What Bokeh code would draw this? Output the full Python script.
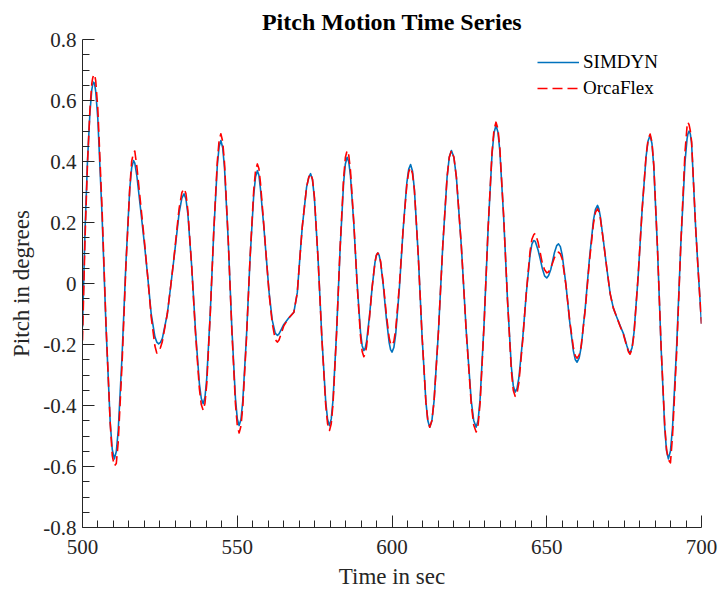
from bokeh.plotting import figure
from bokeh.models import ColumnDataSource, FixedTicker, Legend, LegendItem
from bokeh.embed import file_html
from bokeh.resources import INLINE

# ---- data ----
time_s = [
    500.0, 500.8, 501.6, 502.4, 503.0, 503.3, 503.6, 503.9, 504.27, 504.94,
    506.28, 507.62, 508.96, 509.63, 510.3, 510.92, 511.54, 512.78, 514.02, 515.26,
    515.88, 516.5, 516.9, 517.6, 518.7, 519.9, 521.0, 522.2, 523.4, 524.0,
    524.6, 525.2, 525.8, 527.4, 528.6, 529.6, 531.2, 532.1, 532.8, 533.42,
    534.04, 535.28, 536.52, 537.76, 538.38, 539.0, 539.57, 540.14, 541.28, 542.42,
    543.56, 544.13, 544.7, 545.29, 545.88, 547.06, 548.24, 549.42, 550.01, 550.6,
    551.19, 551.78, 552.96, 554.14, 555.32, 555.91, 556.5, 557.0, 557.5, 558.6,
    559.5, 560.3, 561.3, 562.2, 562.6, 563.0, 563.5, 564.0, 565.0, 566.5,
    568.3, 569.4, 570.2, 571.0, 572.4, 573.1, 573.7, 574.31, 574.92, 576.14,
    577.36, 578.58, 579.19, 579.8, 580.37, 580.94, 582.08, 583.22, 584.36, 584.93,
    585.5, 586.04, 586.58, 587.66, 588.74, 589.82, 590.36, 590.9, 591.35, 591.8,
    592.7, 593.6, 594.5, 594.95, 595.4, 595.86, 596.32, 597.24, 598.16, 599.08,
    599.54, 600.0, 600.6, 601.2, 602.4, 603.6, 604.8, 605.4, 606.0, 606.62,
    607.24, 608.48, 609.72, 610.96, 611.58, 612.2, 612.9, 613.6, 615.0, 616.4,
    617.8, 618.5, 619.2, 620.0, 620.8, 622.4, 624.0, 625.6, 626.4, 627.2,
    627.84, 628.48, 629.76, 631.04, 632.32, 632.96, 633.6, 634.22, 634.84, 636.08,
    637.32, 638.56, 639.18, 639.8, 640.4, 641.0, 642.2, 643.4, 644.6, 645.2,
    645.8, 646.3, 647.2, 647.9, 648.6, 649.3, 650.0, 650.6, 651.3, 652.5,
    653.2, 653.8, 654.4, 655.0, 656.2, 657.4, 658.6, 659.2, 659.8, 660.46,
    661.12, 662.44, 663.76, 665.08, 665.74, 666.4, 666.85, 667.3, 668.3, 669.4,
    670.5, 671.5, 672.6, 673.7, 674.8, 675.9, 676.4, 676.9, 677.55, 678.2,
    679.5, 680.8, 682.1, 682.75, 683.4, 683.99, 684.58, 685.76, 686.94, 688.12,
    688.71, 689.3, 689.97, 690.64, 691.98, 693.32, 694.66, 695.33, 695.6, 696.0,
    696.4, 696.8, 698.1, 699.0, 700.0]

simdyn = [
    -0.143, 0.17, 0.40, 0.56, 0.635, 0.652, 0.660, 0.655, 0.630, 0.542,
    0.233, -0.148, -0.457, -0.545, -0.575, -0.551, -0.482, -0.237, 0.065, 0.310,
    0.379, 0.403, 0.395, 0.35, 0.25, 0.14, 0.03, -0.10, -0.175, -0.192,
    -0.198, -0.193, -0.18, -0.10, 0.00, 0.086, 0.23, 0.28, 0.294, 0.277,
    0.228, 0.056, -0.156, -0.328, -0.377, -0.394, -0.373, -0.312, -0.096, 0.171,
    0.387, 0.448, 0.469, 0.446, 0.380, 0.146, -0.143, -0.377, -0.443, -0.466,
    -0.446, -0.386, -0.177, 0.081, 0.290, 0.350, 0.370, 0.355, 0.31, 0.185,
    0.07, -0.03, -0.12, -0.16, -0.167, -0.170, -0.165, -0.155, -0.135, -0.115,
    -0.094, -0.03, 0.08, 0.185, 0.316, 0.348, 0.36, 0.340, 0.281, 0.075,
    -0.181, -0.387, -0.446, -0.466, -0.444, -0.382, -0.162, 0.110, 0.330, 0.392,
    0.414, 0.398, 0.353, 0.195, -0.001, -0.159, -0.204, -0.220, -0.212, -0.189,
    -0.109, -0.011, 0.069, 0.092, 0.100, 0.092, 0.069, -0.012, -0.113, -0.194,
    -0.217, -0.225, -0.210, -0.166, -0.013, 0.178, 0.331, 0.375, 0.390, 0.369,
    0.308, 0.093, -0.174, -0.389, -0.450, -0.471, -0.449, -0.384, -0.158, 0.123,
    0.349, 0.414, 0.436, 0.414, 0.349, 0.123, -0.158, -0.384, -0.449, -0.471,
    -0.447, -0.377, -0.129, 0.176, 0.424, 0.494, 0.518, 0.497, 0.435, 0.216,
    -0.054, -0.273, -0.335, -0.356, -0.344, -0.309, -0.184, -0.031, 0.093, 0.129,
    0.141, 0.138, 0.110, 0.08, 0.048, 0.025, 0.018, 0.026, 0.046, 0.102,
    0.124, 0.130, 0.121, 0.093, -0.004, -0.124, -0.221, -0.249, -0.258, -0.245,
    -0.209, -0.080, 0.078, 0.207, 0.243, 0.256, 0.245, 0.22, 0.141, 0.05,
    -0.034, -0.08, -0.11, -0.138, -0.165, -0.205, -0.220, -0.228, -0.211, -0.16,
    0.018, 0.239, 0.417, 0.468, 0.485, 0.459, 0.384, 0.119, -0.209, -0.474,
    -0.549, -0.575, -0.549, -0.472, -0.204, 0.129, 0.397, 0.474, 0.490, 0.500,
    0.49, 0.46, 0.185, 0.03, -0.132]

orcaflex = [
    -0.187, 0.14, 0.39, 0.57, 0.655, 0.674, 0.684, 0.686, 0.665, 0.575,
    0.255, -0.14, -0.46, -0.565, -0.598, -0.59, -0.52, -0.265, 0.055, 0.31,
    0.40, 0.43, 0.434, 0.38, 0.27, 0.15, 0.03, -0.11, -0.205, -0.228,
    -0.225, -0.21, -0.19, -0.10, 0.00, 0.09, 0.245, 0.298, 0.311, 0.295,
    0.24, 0.056, -0.165, -0.345, -0.397, -0.416, -0.393, -0.33, -0.10, 0.175,
    0.40, 0.468, 0.491, 0.466, 0.395, 0.15, -0.15, -0.395, -0.465, -0.490,
    -0.468, -0.405, -0.185, 0.085, 0.305, 0.371, 0.392, 0.377, 0.33, 0.19,
    0.07, -0.035, -0.13, -0.18, -0.188, -0.192, -0.185, -0.17, -0.14, -0.115,
    -0.094, -0.03, 0.08, 0.185, 0.316, 0.348, 0.36, 0.342, 0.285, 0.075,
    -0.185, -0.398, -0.46, -0.482, -0.46, -0.395, -0.165, 0.115, 0.345, 0.413,
    0.436, 0.42, 0.37, 0.2, -0.005, -0.172, -0.223, -0.240, -0.231, -0.205,
    -0.115, -0.011, 0.07, 0.093, 0.100, 0.094, 0.072, -0.005, -0.10, -0.178,
    -0.197, -0.203, -0.19, -0.15, -0.005, 0.178, 0.325, 0.366, 0.380, 0.361,
    0.305, 0.093, -0.174, -0.389, -0.450, -0.471, -0.449, -0.384, -0.158, 0.123,
    0.349, 0.414, 0.436, 0.414, 0.349, 0.123, -0.16, -0.395, -0.464, -0.487,
    -0.462, -0.39, -0.133, 0.18, 0.43, 0.505, 0.529, 0.508, 0.445, 0.22,
    -0.055, -0.285, -0.35, -0.370, -0.36, -0.325, -0.19, -0.03, 0.105, 0.145,
    0.16, 0.164, 0.135, 0.10, 0.065, 0.045, 0.035, 0.038, 0.05, 0.085,
    0.099, 0.103, 0.097, 0.08, -0.005, -0.12, -0.21, -0.237, -0.245, -0.235,
    -0.205, -0.085, 0.07, 0.195, 0.233, 0.245, 0.236, 0.215, 0.14, 0.05,
    -0.034, -0.08, -0.11, -0.14, -0.168, -0.208, -0.224, -0.232, -0.215, -0.165,
    0.02, 0.24, 0.42, 0.473, 0.49, 0.464, 0.39, 0.12, -0.205, -0.465,
    -0.545, -0.578, -0.588, -0.5, -0.225, 0.13, 0.43, 0.515, 0.529, 0.52,
    0.50, 0.465, 0.185, 0.03, -0.132]

x_ticks = [500, 550, 600, 650, 700]
x_labels = ["500", "550", "600", "650", "700"]
x_minor = [505, 510, 515, 520, 525, 530, 535, 540, 545, 555, 560, 565, 570, 575,
           580, 585, 590, 595, 605, 610, 615, 620, 625, 630, 635, 640, 645, 655,
           660, 665, 670, 675, 680, 685, 690, 695]
y_ticks = [-0.8, -0.6, -0.4, -0.2, 0.0, 0.2, 0.4, 0.6, 0.8]
y_labels = ["-0.8", "-0.6", "-0.4", "-0.2", "0", "0.2", "0.4", "0.6", "0.8"]
y_minor = [-0.75, -0.7, -0.65, -0.55, -0.5, -0.45, -0.35, -0.3, -0.25, -0.15, -0.1,
           -0.05, 0.05, 0.1, 0.15, 0.25, 0.3, 0.35, 0.45, 0.5, 0.55, 0.65, 0.7, 0.75]

FONT = "Liberation Serif"
AX = "#262626"

src = ColumnDataSource(dict(t=time_s, s=simdyn, o=orcaflex))

p = figure(width=720, height=592, output_backend="svg", toolbar_location=None,
           x_range=(500, 700), y_range=(-0.8, 0.8),
           min_border_left=82, min_border_right=19, min_border_top=39, min_border_bottom=65,
           title="Pitch Motion Time Series")
p.background_fill_color = "white"
p.border_fill_color = "white"
p.outline_line_color = None
p.xgrid.visible = False
p.ygrid.visible = False

p.title.align = "center"
p.title.text_font = FONT
p.title.text_font_size = "24px"
p.title.text_font_style = "bold"
p.title.text_color = "black"
p.title.standoff = 9

r1 = p.line("t", "s", source=src, line_color="#0072BD", line_width=1.6, line_join="round")
r2 = p.line("t", "o", source=src, line_color="#FF0000", line_width=1.6, line_join="round",
            line_dash="10 5")

for ax, ticks, minor, labels in ((p.xaxis[0], x_ticks, x_minor, x_labels),
                                 (p.yaxis[0], y_ticks, y_minor, y_labels)):
    ax.ticker = FixedTicker(ticks=ticks, minor_ticks=minor)
    ax.major_label_overrides = dict(zip(ticks, labels))
    ax.axis_line_color = AX
    ax.major_tick_line_color = AX
    ax.minor_tick_line_color = AX
    ax.major_tick_in = 12
    ax.major_tick_out = 0
    ax.minor_tick_in = 7
    ax.minor_tick_out = 0
    ax.major_label_text_font = FONT
    ax.major_label_text_font_size = "21px"
    ax.major_label_text_color = AX
    ax.axis_label_text_font = FONT
    ax.axis_label_text_font_size = "23px"
    ax.axis_label_text_font_style = "normal"
    ax.axis_label_text_color = AX

p.xaxis.axis_label = "Time in sec"
p.yaxis.axis_label = "Pitch in degrees"
p.xaxis.major_label_standoff = 12
p.xaxis.axis_label_standoff = 7
p.yaxis.major_label_standoff = 6
p.yaxis.axis_label_standoff = 6

legend = Legend(items=[LegendItem(label="SIMDYN", renderers=[r1]),
                       LegendItem(label="OrcaFlex", renderers=[r2])],
                location=(455, 428))
legend.border_line_color = None
legend.background_fill_alpha = 0
legend.label_text_font = FONT
legend.label_text_font_size = "19px"
legend.label_text_color = "black"
legend.glyph_width = 42
legend.glyph_height = 22
legend.label_height = 22
legend.spacing = 4
legend.label_standoff = 4
legend.padding = 0
legend.margin = 0
p.add_layout(legend)

open("out.html", "w").write(file_html(p, INLINE))
